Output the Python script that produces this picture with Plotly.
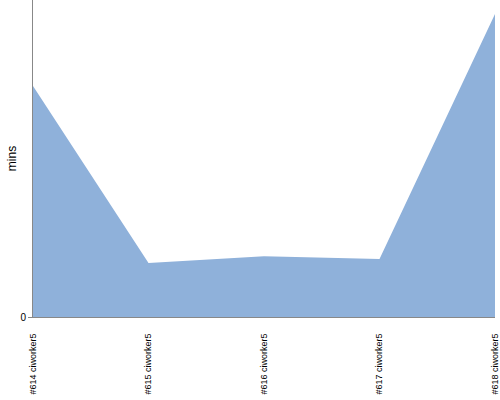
import plotly.graph_objects as go

categories = ["#614 ciworker5", "#615 ciworker5", "#616 ciworker5", "#617 ciworker5", "#618 ciworker5"]
mins = [72.9, 17.0, 19.2, 18.3, 95.6]

fig = go.Figure()
fig.add_trace(go.Scatter(
    x=categories, y=mins, mode="lines", fill="tozeroy",
    fillcolor="#8fb1da", line=dict(width=0, color="#8fb1da"),
))
fig.update_layout(
    width=500, height=400,
    margin=dict(l=33, r=5, t=0, b=83, autoexpand=False),
    plot_bgcolor="white", paper_bgcolor="white",
    showlegend=False,
    font=dict(family="Liberation Sans, Arial, sans-serif", size=9, color="#000"),
)
fig.update_xaxes(
    range=[0, 4], tickangle=-90, showgrid=False, showline=True,
    linecolor="#888", linewidth=1, ticks="outside", ticklen=12,
    tickcolor="rgba(0,0,0,0)", tickfont=dict(size=9),
    automargin=False, ticklabeloverflow="allow",
)
fig.update_yaxes(
    range=[0, 100], tickvals=[0], ticktext=["0"], showgrid=False,
    showline=True, linecolor="#888", linewidth=1, ticks="outside",
    ticklen=4, tickcolor="#888", zeroline=False, automargin=False,
    title=dict(text="mins", font=dict(size=12), standoff=1),
    tickfont=dict(size=10),
)
fig.write_html("out.html", config={"displayModeBar": False},
               post_script="document.body.style.margin='0';document.body.style.overflow='hidden';")
